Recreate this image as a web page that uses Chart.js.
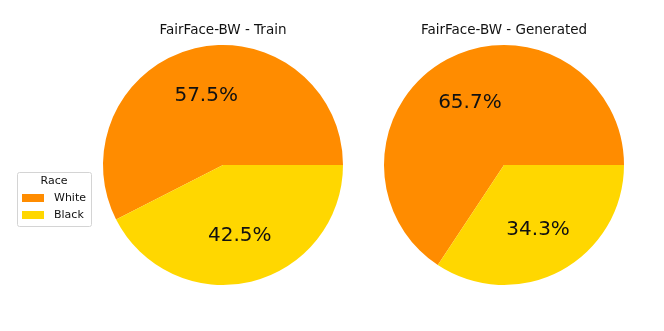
<!DOCTYPE html>
<html>
<head>
<meta charset="utf-8">
<script src="https://cdn.jsdelivr.net/npm/chart.js@4/dist/chart.umd.min.js"></script>
<style>
html,body{margin:0;padding:0;background:#fff;width:664px;height:331px;overflow:hidden;}
canvas{position:absolute;top:0;}
#c1{left:0;}
#c2{left:350px;}
</style>
</head>
<body>
<canvas id="c1" width="350" height="331"></canvas>
<canvas id="c2" width="314" height="331"></canvas>
<script>
const categories = ["White", "Black"];
const colors = ["#FF8C00", "#FFD700"];
const trainValues = [57.5, 42.5];
const generatedValues = [65.7, 34.3];
const titles = ["FairFace-BW - Train", "FairFace-BW - Generated"];
const legendTitle = "Race";

const FONT = "'DejaVu Sans', sans-serif";

const labelsPlugin = {
  id: 'mplLabels',
  afterDraw(chart, args, opts) {
    const ctx = chart.ctx;
    const meta = chart.getDatasetMeta(0);
    const ds = chart.data.datasets[0];
    const total = ds.data.reduce((a, b) => a + b, 0);
    const area = chart.chartArea;
    const cx = (area.left + area.right) / 2;
    ctx.save();
    // title
    ctx.fillStyle = '#111';
    ctx.font = '13.5px ' + FONT;
    ctx.textAlign = 'center';
    ctx.textBaseline = 'middle';
    ctx.fillText(opts.title, cx, 30);
    // percentage labels
    ctx.font = '20px ' + FONT;
    meta.data.forEach((arc, i) => {
      const p = arc.getProps(['x', 'y', 'startAngle', 'endAngle', 'outerRadius'], true);
      const mid = (p.startAngle + p.endAngle) / 2;
      const r = p.outerRadius * 0.6;
      const x = p.x + r * Math.cos(mid);
      const y = p.y + r * Math.sin(mid);
      const pct = (ds.data[i] / total * 100).toFixed(1) + '%';
      ctx.fillText(pct, x, y + 1);
    });
    // legend
    if (opts.legend) {
      const bx = 17.5, by = 172.5, bw = 74, bh = 54;
      ctx.beginPath();
      if (ctx.roundRect) ctx.roundRect(bx, by, bw, bh, 2); else ctx.rect(bx, by, bw, bh);
      ctx.fillStyle = 'rgba(255,255,255,0.8)';
      ctx.fill();
      ctx.strokeStyle = '#d4d4d4';
      ctx.lineWidth = 1;
      ctx.stroke();
      ctx.fillStyle = '#111';
      ctx.font = '11px ' + FONT;
      ctx.textAlign = 'center';
      ctx.fillText(legendTitle, 54, 181.5);
      chart.data.labels.forEach((lab, i) => {
        const yy = 198 + i * 17;
        ctx.fillStyle = ds.backgroundColor[i];
        ctx.fillRect(22, yy - 4, 22, 8);
        ctx.fillStyle = '#111';
        ctx.textAlign = 'left';
        ctx.fillText(lab, 54, yy);
      });
    }
    ctx.restore();
  }
};

function makePie(id, values, title, padding, legend) {
  // matplotlib: first wedge starts at 3 o'clock going counter-clockwise
  const first = values[0] / values.reduce((a, b) => a + b, 0);
  return new Chart(document.getElementById(id), {
    type: 'pie',
    data: {
      labels: categories,
      datasets: [{
        data: values,
        backgroundColor: colors,
        borderWidth: 0,
        hoverOffset: 0
      }]
    },
    options: {
      responsive: false,
      animation: false,
      rotation: 90 - 360 * first,
      layout: { padding: padding },
      events: [],
      plugins: {
        legend: { display: false },
        tooltip: { enabled: false },
        title: { display: false },
        mplLabels: { title: title, legend: legend }
      }
    },
    plugins: [labelsPlugin]
  });
}

makePie('c1', trainValues, titles[0], { left: 103, right: 7, top: 45, bottom: 46 }, true);
makePie('c2', generatedValues, titles[1], { left: 34, right: 40, top: 45, bottom: 46 }, false);
</script>
</body>
</html>
